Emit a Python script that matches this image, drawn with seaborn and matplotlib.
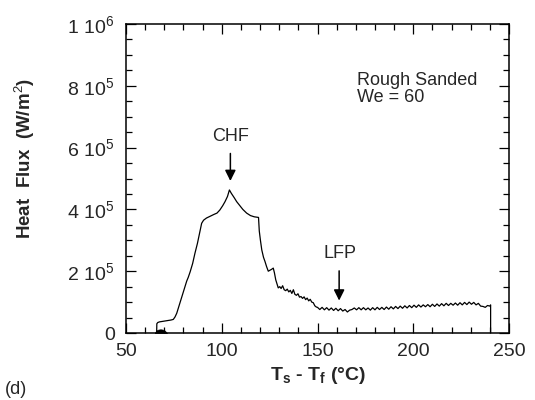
import numpy as np
import pandas as pd
import matplotlib
matplotlib.use("Agg")
import matplotlib.pyplot as plt
import seaborn as sns
from matplotlib.ticker import MultipleLocator, FixedLocator

# ---- data ----
rise_T = [66.0, 66.1, 66.6, 67.5, 68.5, 69.5, 70.5, 71.5, 72.5, 73.5, 74.7, 75.6, 76.5,
          77.8, 79.1, 80.5, 81.7, 82.5, 83.5, 84.8, 86.0, 87.3, 88.5, 89.5, 90.5, 92.0,
          94.0, 96.0, 97.5, 99.0, 100.5, 101.7, 103.0, 104.0, 105.0, 106.5, 107.8,
          109.5, 111.0, 113.0, 115.0, 117.0, 119.2]
rise_q = [0, 30, 34, 36, 37, 38, 39, 40, 41, 42, 44, 52, 64,
          90, 117, 145, 168, 180, 198, 225, 258, 290, 325, 355, 365, 372,
          378, 384, 388, 398, 412, 425, 442, 463, 452, 438, 425,
          412, 400, 388, 380, 376, 374]

trans_T = [119.6, 120.2, 120.9, 121.8, 122.6, 123.4, 124.3, 125.2, 126.0, 126.9, 127.5,
           128.2, 128.8, 129.5, 130.3, 131.0, 131.8, 132.6, 133.4, 134.2, 135.0, 135.8,
           136.6, 137.4, 138.2, 139.0, 139.8, 140.6, 141.4, 142.2, 143.0, 143.8, 144.6,
           145.4, 146.2, 147.0, 147.8, 148.6, 149.4]
trans_q = [330, 300, 269, 245, 231, 215, 200, 203, 206, 210, 195,
           172, 160, 146, 150, 144, 153, 140, 137, 142, 133, 138,
           128, 140, 125, 122, 127, 116, 118, 112, 117, 108, 113,
           104, 109, 100, 98, 88, 84]

film_T = [150.0, 151.2, 152.4, 153.6, 154.8, 156.0, 157.2, 158.4, 159.6, 160.8, 162.0,
          163.2, 164.4, 165.6, 166.8, 168.0, 169.2, 170.4, 171.6, 172.8, 174.0, 175.2,
          176.4, 177.6, 178.8, 180.0, 181.2, 182.4, 183.6, 184.8, 186.0, 187.2, 188.4,
          189.6, 190.8, 192.0, 193.2, 194.4, 195.6, 196.8, 198.0, 199.2, 200.4, 201.6,
          202.8, 204.0, 205.2, 206.4, 207.6, 208.8, 210.0, 211.2, 212.4, 213.6, 214.8,
          216.0, 217.2, 218.4, 219.6, 220.8, 222.0, 223.2, 224.4, 225.6, 226.8, 228.0,
          229.2, 230.4, 231.6, 232.8, 234.0, 235.2, 236.4, 237.6, 238.8, 240.0, 240.4, 240.4]
film_q = [83, 76, 83, 75, 82, 74, 81, 73, 80, 72, 79,
          71, 76, 68, 74, 76, 81, 75, 82, 75, 82, 75,
          81, 74, 82, 75, 83, 76, 83, 76, 84, 77, 85,
          78, 86, 79, 87, 80, 88, 81, 89, 82, 90, 83,
          91, 84, 91, 85, 92, 85, 93, 86, 94, 87, 95,
          88, 96, 89, 96, 90, 97, 90, 98, 91, 99, 92,
          100, 93, 99, 91, 96, 87, 86, 83, 89, 87, 91, 0]

blob_T = [65.0, 65.8, 66.8, 68.0, 69.2, 70.2, 71.4]
blob_q = [0, 8, 11, 12, 11, 8, 0]

x_ticks = [50, 100, 150, 200, 250]
y_ticks = [0, 2e5, 4e5, 6e5, 8e5, 1e6]
y_tick_labels = ["0", r"$\mathregular{2\ 10^5}$", r"$\mathregular{4\ 10^5}$",
                 r"$\mathregular{6\ 10^5}$", r"$\mathregular{8\ 10^5}$",
                 r"$\mathregular{1\ 10^6}$"]

df = pd.DataFrame({
    "T": rise_T + trans_T + film_T,
    "q": [v * 1e3 for v in rise_q + trans_q + film_q],
})

# ---- style ----
sns.set_theme(style="ticks")
plt.rcParams["font.family"] = ["Liberation Sans", "DejaVu Sans"]
plt.rcParams["mathtext.fontset"] = "custom"
plt.rcParams["mathtext.rm"] = "Liberation Sans"
plt.rcParams["mathtext.it"] = "Liberation Sans:bold"
plt.rcParams["mathtext.bf"] = "Liberation Sans:bold"

fig = plt.figure(figsize=(5.35, 4.0), dpi=100)
ax = fig.add_axes([126 / 535, 1 - 333 / 400, 383 / 535, 309 / 400])

sns.lineplot(data=df, x="T", y="q", sort=False, estimator=None,
             color="black", lw=0.9, ax=ax)
ax.fill_between(blob_T, [v * 1e3 for v in blob_q], 0, color="black", lw=0.5)

ax.set_xlim(50, 250)
ax.set_ylim(0, 1e6)
ax.xaxis.set_major_locator(FixedLocator(x_ticks))
ax.xaxis.set_minor_locator(MultipleLocator(10))
ax.yaxis.set_major_locator(FixedLocator(y_ticks))
ax.yaxis.set_minor_locator(MultipleLocator(5e4))
ax.set_yticklabels(y_tick_labels)
ax.tick_params(which="both", direction="in", top=True, right=True,
               width=0.9, color="black", labelsize=14)
ax.tick_params(which="major", length=7)
ax.tick_params(which="minor", length=4)
ax.tick_params(axis="x", pad=7)
ax.tick_params(axis="y", pad=8)
for s in ax.spines.values():
    s.set_linewidth(1.1)
    s.set_color("black")

ax.set_xlabel(r"T$_s$ - T$_f$ (°C)", fontsize=14, fontweight="bold", labelpad=4)
ax.set_ylabel(r"Heat  Flux  (W/m$^2$)", fontsize=13.5, fontweight="bold")
ax.yaxis.set_label_coords(-0.232, 0.565)

# annotations
ax.text(104.5, 0.635e6, "CHF", ha="center", va="center", fontsize=13)
ax.annotate("", xy=(104.5, 0.483e6), xytext=(104.5, 0.59e6),
            arrowprops=dict(arrowstyle="-|>", color="black", lw=1.1, mutation_scale=16))
ax.text(161.5, 0.258e6, "LFP", ha="center", va="center", fontsize=13)
ax.annotate("", xy=(161.3, 0.096e6), xytext=(161.3, 0.21e6),
            arrowprops=dict(arrowstyle="-|>", color="black", lw=1.1, mutation_scale=16))
ax.text(170.5, 0.845e6, "Rough Sanded\nWe = 60", ha="left", va="top",
        fontsize=13, linespacing=1.0)

fig.text(5 / 535, 1 - 389 / 400, "(d)", fontsize=13, ha="left", va="center")

fig.savefig("out.png", dpi=100)
